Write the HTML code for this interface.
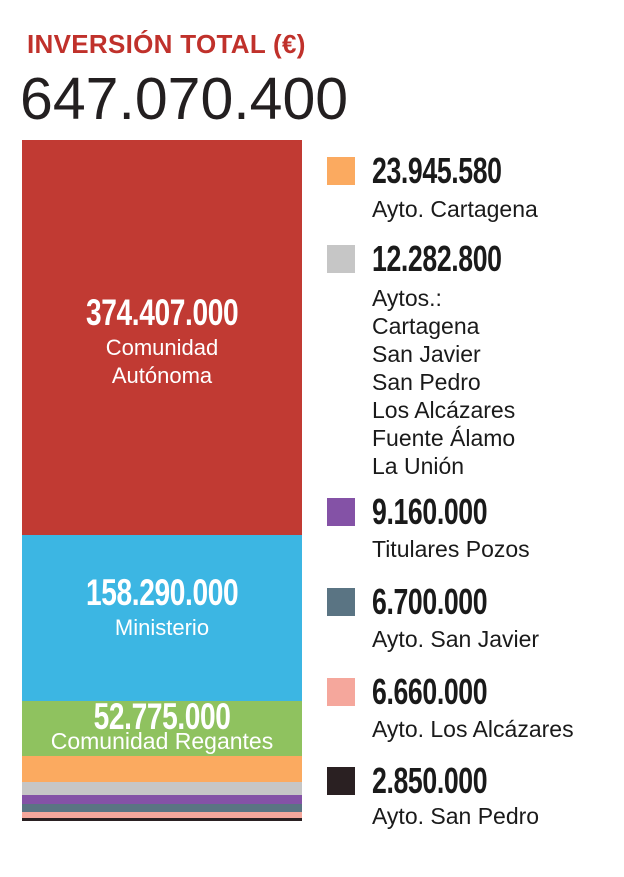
<!DOCTYPE html>
<html><head><meta charset="utf-8"><style>
body{margin:0;width:624px;height:877px;background:#fff;position:relative;overflow:hidden;font-family:"Liberation Sans",sans-serif}
.a{position:absolute;white-space:nowrap}
.t{left:27px;top:29px;font-size:26px;font-weight:bold;color:#c0312b;letter-spacing:0.3px}
.big{left:20px;top:65px;font-size:59px;color:#231f20;letter-spacing:0px;font-weight:300}
.seg{position:absolute;left:22px;width:280px}
.bl{position:absolute;left:22px;width:280px;text-align:center;color:#fff}
.bv{font-weight:bold;font-size:37px;display:inline-block;transform:scaleX(0.76);letter-spacing:-0.5px}
.bt{font-size:22px;line-height:28px}
.sq{position:absolute;left:327px;width:28px;height:28px}
.v{position:absolute;left:372px;font-size:36px;font-weight:bold;color:#1a1a1a;transform:scaleX(0.74);transform-origin:left;line-height:36px;letter-spacing:-0.5px}
.l{position:absolute;left:372px;font-size:23px;color:#1a1a1a;line-height:28px}
</style></head><body>
<div class="a t">INVERSIÓN TOTAL (€)</div>
<div class="a big">647.070.400</div>
<div class="seg" style="top:140px;height:395px;background:#c13a33"></div>
<div class="seg" style="top:535px;height:166px;background:#3cb6e3"></div>
<div class="seg" style="top:701px;height:55px;background:#8fc25f"></div>
<div class="seg" style="top:756px;height:26px;background:#fbaa60"></div>
<div class="seg" style="top:782px;height:13px;background:#c6c6c6"></div>
<div class="seg" style="top:795px;height:9px;background:#8452a6"></div>
<div class="seg" style="top:804px;height:8px;background:#5a7483"></div>
<div class="seg" style="top:812px;height:6px;background:#f5a79c"></div>
<div class="seg" style="top:818px;height:3px;background:#2a2022"></div>
<div class="bl" style="top:292px"><span class="bv">374.407.000</span><div class="bt">Comunidad<br>Autónoma</div></div>
<div class="bl" style="top:572px"><span class="bv">158.290.000</span><div class="bt">Ministerio</div></div>
<div class="bl" style="top:698px"><span class="bv" style="line-height:38px">52.775.000</span><div class="bt" style="margin-top:-9px;font-size:23px">Comunidad Regantes</div></div>

<div class="sq" style="top:157px;background:#fbaa60"></div>
<div class="v" style="top:153px">23.945.580</div>
<div class="l" style="top:195px">Ayto. Cartagena</div>
<div class="sq" style="top:245px;background:#c6c6c6"></div>
<div class="v" style="top:241px">12.282.800</div>
<div class="l" style="top:284px">Aytos.:<br>Cartagena<br>San Javier<br>San Pedro<br>Los Alcázares<br>Fuente Álamo<br>La Unión</div>
<div class="sq" style="top:498px;background:#8452a6"></div>
<div class="v" style="top:494px">9.160.000</div>
<div class="l" style="top:535px">Titulares Pozos</div>
<div class="sq" style="top:588px;background:#5a7483"></div>
<div class="v" style="top:584px">6.700.000</div>
<div class="l" style="top:625px">Ayto. San Javier</div>
<div class="sq" style="top:678px;background:#f5a79c"></div>
<div class="v" style="top:674px">6.660.000</div>
<div class="l" style="top:715px">Ayto. Los Alcázares</div>
<div class="sq" style="top:767px;background:#2a2022"></div>
<div class="v" style="top:763px">2.850.000</div>
<div class="l" style="top:802px">Ayto. San Pedro</div>
</body></html>
